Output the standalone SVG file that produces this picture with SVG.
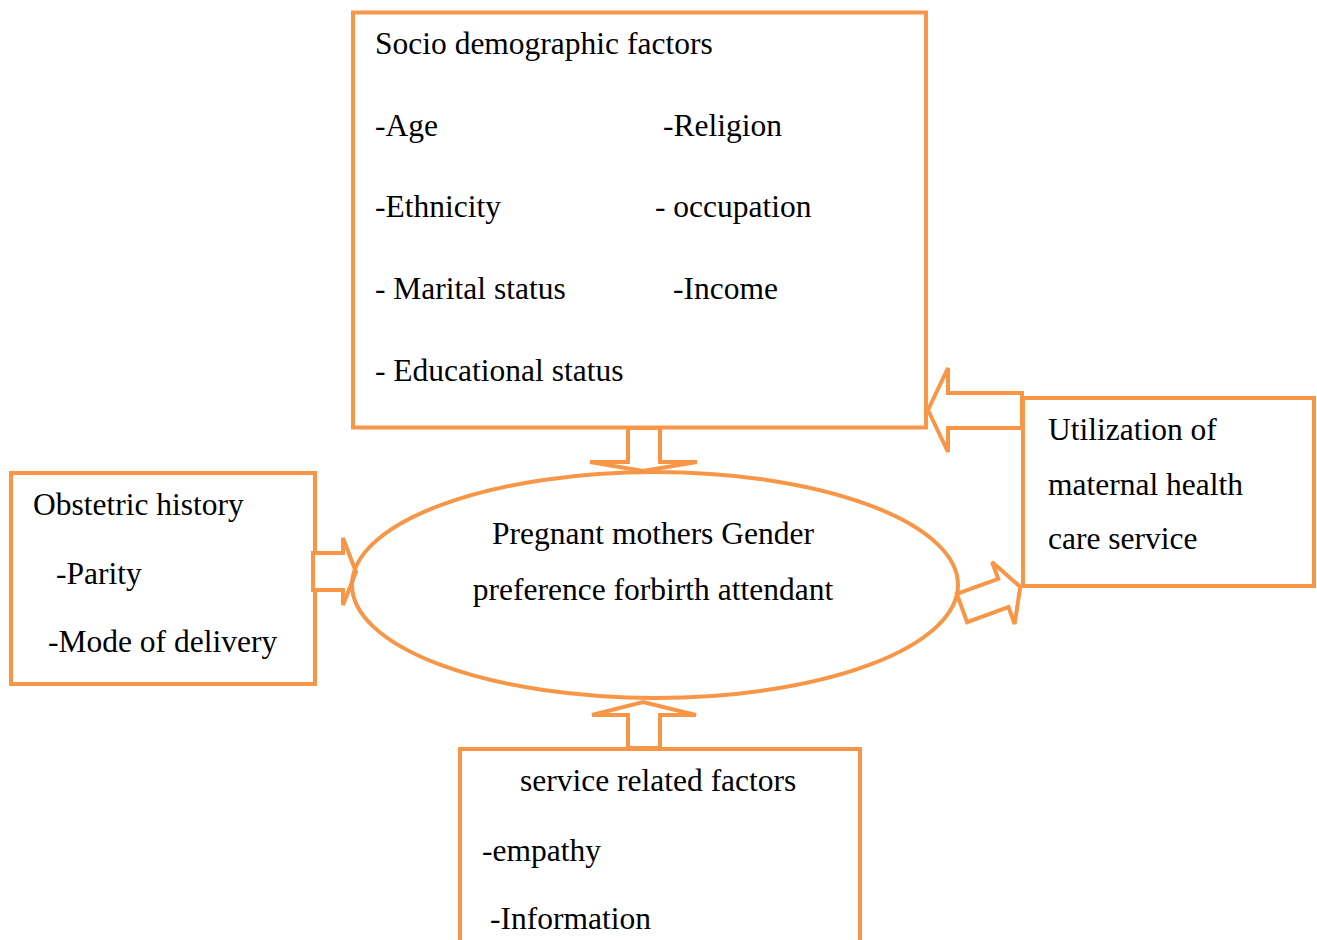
<svg xmlns="http://www.w3.org/2000/svg" width="1317" height="940" viewBox="0 0 1317 940">
<style>
.box{fill:#fff;stroke:#F79646;stroke-width:4}
.arr{fill:#fff;stroke:#F79646;stroke-width:4;stroke-linejoin:miter}
.ell{fill:none;stroke:#F79646;stroke-width:4}
text{font-family:"Liberation Serif","Times New Roman",serif;font-size:31.5px;fill:#000}
.m{text-anchor:middle}
</style>
<rect width="1317" height="940" fill="#fff"/>
<g id="socio">
<rect class="box" x="353" y="12.5" width="573" height="415"/>
<text x="375" y="54">Socio demographic factors</text>
<text x="375" y="136">-Age</text>
<text x="663" y="136">-Religion</text>
<text x="375" y="217">-Ethnicity</text>
<text x="655" y="217">- occupation</text>
<text x="375" y="299">- Marital status</text>
<text x="673" y="299">-Income</text>
<text x="375" y="381">- Educational status</text>
</g>
<g id="utilization">
<rect class="box" x="1023" y="398" width="291" height="188"/>
<text x="1048" y="440">Utilization of</text>
<text x="1048" y="495">maternal health</text>
<text x="1048" y="549">care service</text>
</g>
<g id="obstetric">
<rect class="box" x="11" y="473" width="304" height="211"/>
<text x="33" y="515">Obstetric history</text>
<text x="56" y="584">-Parity</text>
<text x="48" y="652">-Mode of delivery</text>
</g>
<g id="service">
<rect class="box" x="460" y="749" width="400" height="200"/>
<text x="520" y="791">service related factors</text>
<text x="482" y="861">-empathy</text>
<text x="490" y="929">-Information</text>
</g>
<g id="connectors">
<polygon class="arr" points="628,428 660,428 660,462 697,462 643,471 590,462 628,462"/>
<polygon class="arr" points="628,748 660,748 660,715 696,715 643,702 592,715 628,715"/>
<polygon class="arr" points="1022,393 948,393 948,368 928,410 948,452 948,428 1022,428"/>
<polygon class="arr" points="313,553 343,553 343,538 356,572 343,605 343,590 313,590"/>
<polygon class="arr" transform="translate(962,608) rotate(-20)" points="0,-15 44,-15 44,-33 62,0 44,33 44,15 0,15"/>
</g>
<g id="center">
<ellipse class="ell" cx="655" cy="585" rx="303" ry="113"/>
<text class="m" x="653" y="544">Pregnant mothers Gender</text>
<text class="m" x="653" y="600">preference forbirth attendant</text>
</g>
</svg>
